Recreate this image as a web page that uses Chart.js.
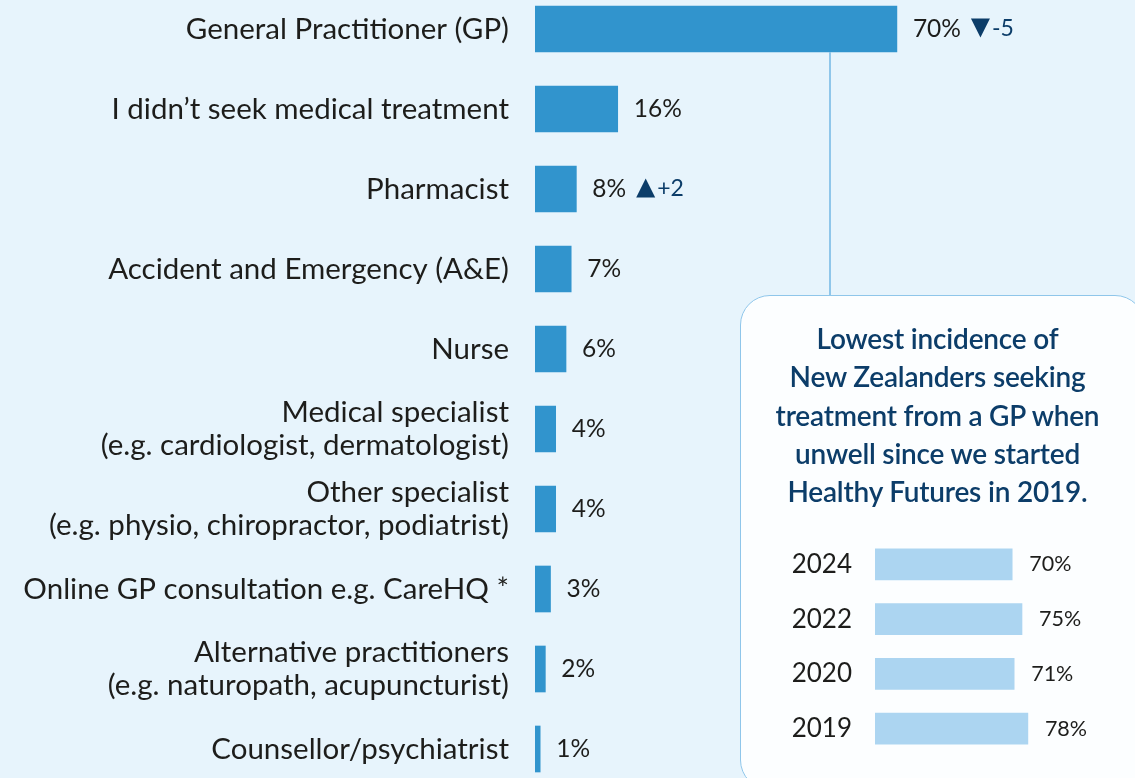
<!DOCTYPE html>
<html>
<head>
<meta charset="utf-8">
<script src="https://cdn.jsdelivr.net/npm/chart.js@4.4.1/dist/chart.umd.min.js"></script>
<style>
  html, body { margin: 0; padding: 0; width: 1135px; height: 778px; overflow: hidden; background: #e7f4fc; }
  .wrap { position: absolute; }
  #mainWrap { left: 0; top: -11px; width: 1135px; height: 800px; }
  #link { position: absolute; left: 829px; top: 52px; width: 2px; height: 245px; background: #8fc6ea; }
  #box { position: absolute; left: 740px; top: 295px; width: 405px; height: 495px; box-sizing: border-box;
         border: 1.5px solid #8fc6ea; border-radius: 30px; background: #fcfeff; }
  #note { position: absolute; left: 740px; top: 319px; width: 395px; text-align: center;
          font: 600 28px Lato, sans-serif; line-height: 38.3px; color: #0c3d69; letter-spacing: -0.2px; }
  #yearWrap { left: 740px; top: 295px; width: 395px; height: 483px; }
</style>
</head>
<body>
<div class="wrap" id="mainWrap"><canvas id="main"></canvas></div>
<div id="link"></div>
<div id="box"></div>
<div id="note">Lowest incidence of<br>New Zealanders seeking<br>treatment from a GP when<br>unwell since we started<br>Healthy Futures in 2019.</div>
<div class="wrap" id="yearWrap"><canvas id="years"></canvas></div>
<script>
  // --- data ---------------------------------------------------------
  const categories = [
    'General Practitioner (GP)',
    'I didn\u2019t seek medical treatment',
    'Pharmacist',
    'Accident and Emergency (A&E)',
    'Nurse',
    ['Medical specialist', '(e.g. cardiologist, dermatologist)'],
    ['Other specialist', '(e.g. physio, chiropractor, podiatrist)'],
    'Online GP consultation e.g. CareHQ *',
    ['Alternative practitioners', '(e.g. naturopath, acupuncturist)'],
    'Counsellor/psychiatrist',
  ];
  const shares = [70, 16, 8, 7, 6, 4, 4, 3, 2, 1];
  const changes = [-5, null, 2, null, null, null, null, null, null, null];

  const years = ['2024', '2022', '2020', '2019'];
  const gpShares = [70, 75, 71, 78];

  const NAVY = '#0c3d69';
  const INK = '#1d1d1b';

  Chart.defaults.font.family = 'Lato, sans-serif';
  Chart.defaults.color = INK;

  // value labels after each bar, plus the up/down change marker
  const valueLabels = {
    id: 'valueLabels',
    afterDatasetsDraw(chart, args, opts) {
      const ctx = chart.ctx;
      const ds = chart.data.datasets[0];
      const meta = chart.getDatasetMeta(0);
      ctx.save();
      ctx.textBaseline = 'middle';
      ctx.textAlign = 'left';
      meta.data.forEach((bar, i) => {
        const txt = ds.data[i] + '%';
        ctx.font = opts.font;
        ctx.fillStyle = INK;
        let x = bar.x + opts.gap;
        ctx.fillText(txt, x, bar.y);
        const delta = opts.changes ? opts.changes[i] : null;
        if (delta == null) return;
        x += ctx.measureText(txt).width + 10;
        const s = 19, cy = bar.y - 1;
        ctx.fillStyle = NAVY;
        ctx.beginPath();
        if (delta < 0) {
          ctx.moveTo(x, cy - s / 2); ctx.lineTo(x + s, cy - s / 2); ctx.lineTo(x + s / 2, cy + s / 2);
        } else {
          ctx.moveTo(x, cy + s / 2); ctx.lineTo(x + s, cy + s / 2); ctx.lineTo(x + s / 2, cy - s / 2);
        }
        ctx.closePath();
        ctx.fill();
        ctx.font = '23px Lato, sans-serif';
        ctx.fillText((delta > 0 ? '+' : '') + delta, x + s + 2, bar.y);
      });
      ctx.restore();
    },
  };

  // keep the category bands flush with the chart area (no label overhang padding)
  const fitAxis = (w) => (s) => {
    s.width = w;
    s.paddingTop = 0;
    s.paddingBottom = 0;
  };

  new Chart(document.getElementById('main'), {
    type: 'bar',
    data: {
      labels: categories,
      datasets: [{
        data: shares,
        backgroundColor: '#3194cd',
        barThickness: 46,
      }],
    },
    plugins: [valueLabels],
    options: {
      indexAxis: 'y',
      responsive: true,
      maintainAspectRatio: false,
      animation: false,
      layout: { padding: { left: 0, right: 83, top: 0, bottom: 0 } },
      plugins: {
        legend: { display: false },
        tooltip: { enabled: false },
        valueLabels: { font: '24.5px Lato, sans-serif', gap: 16, changes },
      },
      scales: {
        x: { display: false, min: 0, max: 100 },
        y: {
          afterFit: fitAxis(535),
          grid: { display: false, drawTicks: false },
          border: { display: false },
          ticks: { padding: 26, autoSkip: false, color: INK, font: { size: 29.5, weight: 400, lineHeight: 1.09 } },
        },
      },
    },
  });

  new Chart(document.getElementById('years'), {
    type: 'bar',
    data: {
      labels: years,
      datasets: [{
        data: gpShares,
        backgroundColor: '#acd5f1',
        barThickness: 31,
      }],
    },
    plugins: [valueLabels],
    options: {
      indexAxis: 'y',
      responsive: true,
      maintainAspectRatio: false,
      animation: false,
      layout: { padding: { left: 0, right: 64, top: 242, bottom: 22 } },
      plugins: {
        legend: { display: false },
        tooltip: { enabled: false },
        valueLabels: { font: '21.5px Lato, sans-serif', gap: 17 },
      },
      scales: {
        x: { display: false, min: 0, max: 100 },
        y: {
          afterFit: fitAxis(135),
          grid: { display: false, drawTicks: false },
          border: { display: false },
          ticks: { padding: 23, color: INK, font: { size: 26, weight: 400 } },
        },
      },
    },
  });
</script>
</body>
</html>
